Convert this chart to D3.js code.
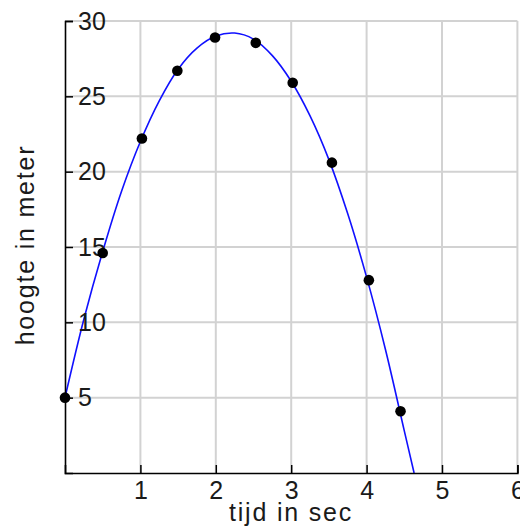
<!DOCTYPE html>
<html>
<head>
<meta charset="utf-8">
<script src="https://cdn.jsdelivr.net/npm/d3@7"></script>
<style>
  html, body { margin: 0; padding: 0; background: #fff; }
  svg { display: block; }
  text { font-family: "Liberation Sans", Arial, sans-serif; fill: #1a1a1a; }
</style>
</head>
<body>
<svg id="chart" width="520" height="527"></svg>
<script>
// Measured data points
const tijd = [0, 0.5, 1.02, 1.49, 1.99, 2.53, 3.02, 3.54, 4.03, 4.45];
const hoogte = [5, 14.6, 22.2, 26.7, 28.9, 28.55, 25.9, 20.6, 12.8, 4.1];

// Fitted curve
const curveT = [0, 0.25, 0.5, 0.75, 1, 1.25, 1.5, 1.75, 2, 2.25, 2.5, 2.75, 3, 3.25, 3.5, 3.75, 4, 4.25, 4.5, 4.63];
const curveH = [5, 10.2, 14.7, 18.7, 22, 24.7, 26.8, 28.2, 29, 29.2, 28.8, 27.7, 26, 23.7, 20.8, 17.2, 13, 8.2, 2.8, 0];

const xTicks = [1, 2, 3, 4, 5, 6];
const yTicks = [5, 10, 15, 20, 25, 30];
const xTitle = "tijd in sec";
const yTitle = "hoogte in meter";

const svg = d3.select("#chart");
const mLeft = 65, mRight = 517.4, mTop = 21, mBottom = 473;

const x = d3.scaleLinear().domain([0, 6]).range([mLeft, mRight]);
const y = d3.scaleLinear().domain([0, 30]).range([mBottom, mTop]);

// grid
const grid = svg.append("g").attr("stroke", "#d2d2d2").attr("stroke-width", 2);
grid.selectAll("line.v").data(xTicks).join("line").attr("class", "v")
  .attr("x1", d => x(d)).attr("x2", d => x(d))
  .attr("y1", mTop).attr("y2", mBottom);
grid.selectAll("line.h").data(yTicks).join("line").attr("class", "h")
  .attr("x1", mLeft).attr("x2", mRight)
  .attr("y1", d => y(d)).attr("y2", d => y(d));

// curve
const pts = curveT.map((t, i) => [t, curveH[i]]);
const line = d3.line().x(d => x(d[0])).y(d => y(d[1])).curve(d3.curveCatmullRom.alpha(0.5));
svg.append("path").datum(pts)
  .attr("d", line)
  .attr("fill", "none")
  .attr("stroke", "#1010ff")
  .attr("stroke-width", 1.6);

// axes
const xAxis = d3.axisBottom(x).tickValues(xTicks).tickSize(-8).tickPadding(8).tickFormat(d3.format("d"));
const gx = svg.append("g").attr("transform", `translate(0,${mBottom})`).call(xAxis);
gx.select(".domain").attr("stroke", "#000").attr("stroke-width", 1.6);
gx.selectAll(".tick line").attr("stroke", "#000").attr("stroke-width", 1.5);
gx.selectAll(".tick text").attr("font-size", 25).attr("dy", "0.71em")
  .attr("font-family", "Liberation Sans, Arial, sans-serif").attr("fill", "#1a1a1a");

const yAxis = d3.axisLeft(y).tickValues(yTicks).tickSize(-8).tickPadding(-13).tickFormat(d3.format("d"));
const gy = svg.append("g").attr("transform", `translate(${mLeft},0)`).call(yAxis);
gy.select(".domain").attr("stroke", "#000").attr("stroke-width", 1.6);
gy.selectAll(".tick line").attr("stroke", "#000").attr("stroke-width", 1.5);
gy.selectAll(".tick text").attr("font-size", 25).attr("text-anchor", "start")
  .attr("font-family", "Liberation Sans, Arial, sans-serif").attr("fill", "#1a1a1a");

// points
svg.append("g").selectAll("circle").data(tijd).join("circle")
  .attr("cx", d => x(d))
  .attr("cy", (d, i) => y(hoogte[i]))
  .attr("r", 5.3)
  .attr("fill", "#000");

// titles
svg.append("text")
  .attr("x", 291).attr("y", 521)
  .attr("text-anchor", "middle")
  .attr("font-size", 25)
  .attr("letter-spacing", "1.8px")
  .text(xTitle);

svg.append("text")
  .attr("transform", "translate(34,245) rotate(-90)")
  .attr("text-anchor", "middle")
  .attr("font-size", 25)
  .attr("letter-spacing", "1.8px")
  .text(yTitle);
</script>
</body>
</html>
